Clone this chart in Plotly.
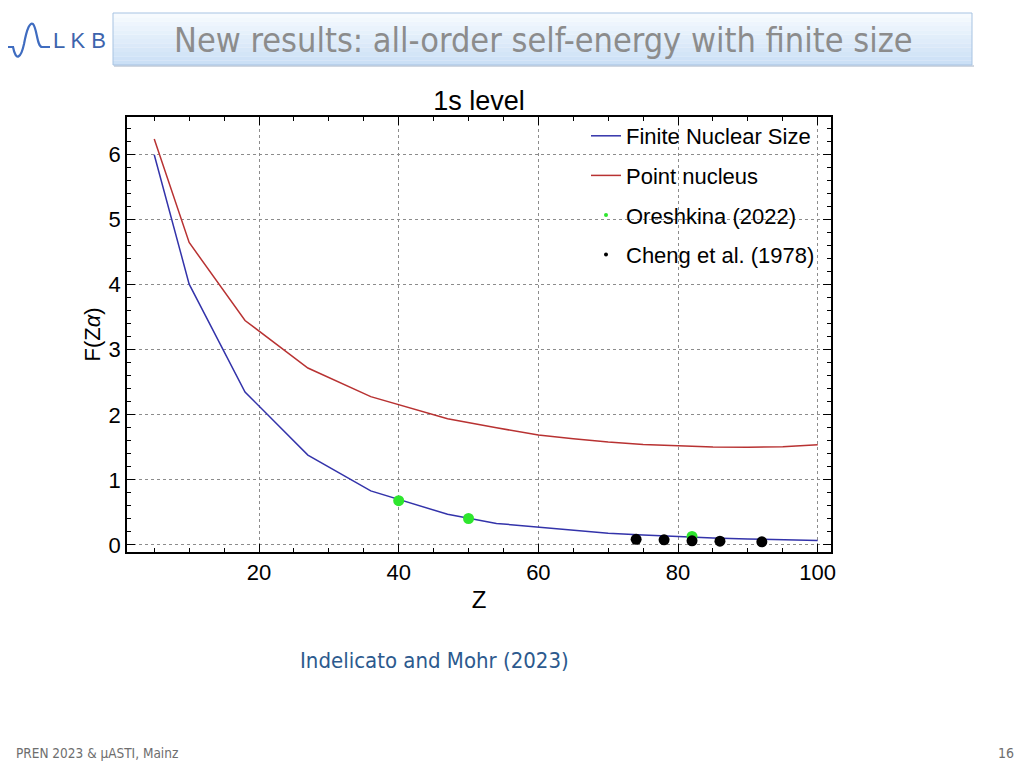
import plotly.graph_objects as go

# ---------------- data ----------------
z_fns = [5, 10, 18, 27, 36, 47, 54, 60, 65, 70, 75, 80, 85, 90, 95, 100]
f_fns = [6.00, 4.01, 2.35, 1.38, 0.83, 0.47, 0.33, 0.27, 0.22, 0.18, 0.15, 0.125, 0.105, 0.09, 0.077, 0.066]

z_point = [5, 10, 18, 27, 36, 47, 54, 60, 65, 70, 75, 80, 85, 90, 95, 100]
f_point = [6.24, 4.65, 3.45, 2.72, 2.28, 1.94, 1.80, 1.69, 1.63, 1.58, 1.545, 1.52, 1.505, 1.50, 1.51, 1.54]

z_oresh = [40, 50, 82]
f_oresh = [0.68, 0.405, 0.13]

z_cheng = [74, 78, 82, 86, 92]
f_cheng = [0.085, 0.077, 0.062, 0.057, 0.046]

x_ticks = [20, 40, 60, 80, 100]
y_ticks = [0, 1, 2, 3, 4, 5, 6]

# ---------------- geometry helpers ----------------
# the page body has an 8px margin, so figure coords = screen coords - 8
OFF = 8
W, H = 1024 - OFF, 768 - OFF
SL, SR, ST, SB = 127, 831, 117, 552          # plot frame in screen pixels
L, R, T, B = SL - OFF, SR - OFF, ST - OFF, SB - OFF


def px(x):
    """screen x pixel -> paper x"""
    return (x - OFF - L) / (R - L)


def py(y):
    """screen y pixel -> paper y"""
    return (B - (y - OFF)) / (B - T)


BLUE = "#3333aa"
RED = "#b83232"
GREEN = "#2ee62e"
FONT = "Liberation Sans, Arial, sans-serif"
NARROW = "Liberation Sans Narrow, DejaVu Sans Condensed, Arial Narrow, sans-serif"

fig = go.Figure()

fig.add_trace(go.Scatter(x=z_fns, y=f_fns, mode="lines", name="Finite Nuclear Size",
                         line=dict(color=BLUE, width=1.5), legendgroup="a"))
fig.add_trace(go.Scatter(x=z_point, y=f_point, mode="lines", name="Point nucleus",
                         line=dict(color=RED, width=1.5), legendgroup="b"))
fig.add_trace(go.Scatter(x=z_oresh, y=f_oresh, mode="markers", name="Oreshkina (2022)",
                         marker=dict(color=GREEN, size=11), showlegend=False, legendgroup="c"))
fig.add_trace(go.Scatter(x=[None], y=[None], mode="markers", name="Oreshkina (2022)",
                         marker=dict(color=GREEN, size=4), legendgroup="c"))
fig.add_trace(go.Scatter(x=z_cheng, y=f_cheng, mode="markers", name="Cheng et al. (1978)",
                         marker=dict(color="black", size=11), showlegend=False, legendgroup="d"))
fig.add_trace(go.Scatter(x=[None], y=[None], mode="markers", name="Cheng et al. (1978)",
                         marker=dict(color="black", size=4), legendgroup="d"))

axis_common = dict(
    showline=True, linecolor="black", linewidth=1.5, mirror="ticks",
    ticks="inside", ticklen=8, tickwidth=1, tickcolor="black",
    showgrid=True, gridcolor="#8c8c8c", gridwidth=1, griddash="3px,3px",
    zeroline=False,
    tickfont=dict(family=FONT, size=22, color="black"),
)

fig.update_xaxes(range=[1.1, 101.9], tickvals=x_ticks,
                 minor=dict(ticks="inside", ticklen=4, dtick=5, tick0=0, tickcolor="black", showgrid=False),
                 title=dict(text="Z", font=dict(family=FONT, size=24, color="black"), standoff=7),
                 **axis_common)
fig.update_yaxes(range=[-0.11, 6.58], tickvals=y_ticks,
                 minor=dict(ticks="inside", ticklen=4, dtick=0.2, tick0=0, tickcolor="black", showgrid=False),
                 title=dict(text="F(Z<i>α</i>)", font=dict(family=FONT, size=22, color="black"), standoff=2),
                 **axis_common)

shapes = []
# header box gradient
n = 12
top, bot = 13, 65
c0 = (246, 250, 254)
c1 = (203, 224, 246)
for i in range(n):
    y0 = top + (bot - top) * i / n
    y1 = top + (bot - top) * (i + 1) / n
    t = i / (n - 1)
    col = "rgb(%d,%d,%d)" % tuple(round(c0[k] + (c1[k] - c0[k]) * t) for k in range(3))
    shapes.append(dict(type="rect", xref="paper", yref="paper", layer="below",
                       x0=px(113), x1=px(972), y0=py(y1), y1=py(y0),
                       fillcolor=col, line=dict(width=0)))
shapes.append(dict(type="rect", xref="paper", yref="paper", layer="below",
                   x0=px(114), x1=px(974), y0=py(67), y1=py(65),
                   fillcolor="rgba(120,140,170,0.35)", line=dict(width=0)))
shapes.append(dict(type="rect", xref="paper", yref="paper", layer="below",
                   x0=px(113), x1=px(972), y0=py(65), y1=py(13),
                   fillcolor="rgba(0,0,0,0)", line=dict(color="#a7c3e2", width=1)))

# logo wave
pts = "M {},{} L {},{} C {},{} {},{} {},{} C {},{} {},{} {},{} C {},{} {},{} {},{} L {},{}".format(
    px(8), py(47), px(13), py(47),
    px(16), py(62), px(21), py(58), px(24), py(44),
    px(27), py(28), px(30), py(22), px(33), py(24),
    px(37), py(28), px(37), py(47), px(42), py(47),
    px(50), py(47))
shapes.append(dict(type="path", xref="paper", yref="paper", path=pts,
                   line=dict(color="#3f6cc0", width=2.2)))

annotations = [
    dict(text="New results: all-order self-energy with finite size", x=px(543), y=py(40),
         font=dict(family=NARROW, size=34, color="#8c8c8c")),
    dict(text="L K B", x=px(79), y=py(40), font=dict(family=FONT, size=22, color="#3d64ad")),
    dict(text="Indelicato and Mohr (2023)", x=px(434), y=py(660),
         font=dict(family=NARROW, size=22, color="#2c5a8e")),
    dict(text="PREN 2023 &amp; µASTI, Mainz", x=px(14), y=py(753), xanchor="left",
         font=dict(family=NARROW, size=13.5, color="#6e6e6e")),
    dict(text="16", x=px(1016), y=py(753), xanchor="right",
         font=dict(family=NARROW, size=14, color="#6e6e6e")),
]
for a in annotations:
    a.setdefault("xref", "paper")
    a.setdefault("yref", "paper")
    a.setdefault("xanchor", "center")
    a["yanchor"] = "middle"
    a["showarrow"] = False

fig.update_layout(
    width=W, height=H,
    margin=dict(l=L, r=W - R, t=T, b=H - B, autoexpand=False),
    paper_bgcolor="white", plot_bgcolor="white",
    title=dict(text="1s level", x=0.5, xref="paper", xanchor="center",
               y=1 - (101 - OFF) / H, yref="container", yanchor="middle",
               font=dict(family=FONT, size=27, color="black")),
    showlegend=True,
    legend=dict(x=px(586), y=py(115), xanchor="left", yanchor="top",
                font=dict(family=FONT, size=22, color="black"),
                bgcolor="rgba(0,0,0,0)", traceorder="grouped", tracegroupgap=8,
                itemwidth=30),
    shapes=shapes,
    annotations=annotations,
)

fig.write_html("out.html")
